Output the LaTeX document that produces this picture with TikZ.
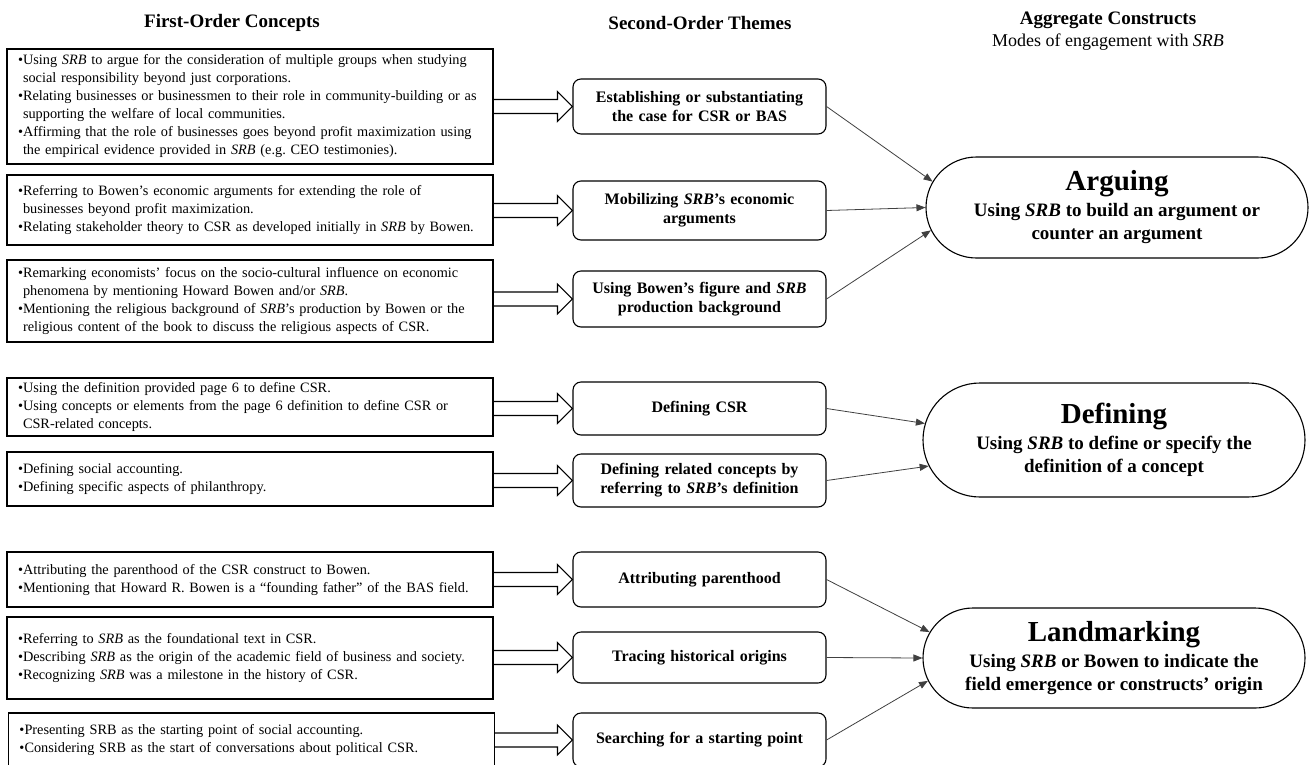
\documentclass[tikz,border=0pt]{standalone}
\usepackage{fontspec}
\setmainfont{Liberation Serif}
\usetikzlibrary{shapes.misc,arrows.meta,calc}

\newcommand\bul{\textbullet}
\newcommand\ind{\hphantom{\textbullet}}

\tikzset{
  firstbox/.style={draw, line width=1.1pt, minimum width=486pt, text width=464pt,
    inner xsep=11pt, inner ysep=0pt, align=left, font=\fontsize{14.3}{18}\selectfont},
  themebox/.style={draw, line width=1.1pt, rounded corners=8pt, minimum width=253pt,
    text width=240pt, inner sep=0pt, align=center, font=\bfseries\fontsize{16}{19}\selectfont},
  constructbox/.style={draw, line width=1.1pt, rounded rectangle, minimum width=382pt,
    inner sep=0pt, align=center, font=\bfseries\fontsize{19}{23}\selectfont},
  header/.style={font=\bfseries\fontsize{19}{22}\selectfont},
  link/.style={draw=black!75, line width=0.8pt, -{Triangle[length=9pt,width=7pt]}},
  blockarr/.style={draw, line width=1.1pt, line join=miter},
}

\begin{document}
\frenchspacing
\begin{tikzpicture}[x=1pt,y=-1pt]
  \pgfmathsetmacro\shaft{7}    % half height of block arrow shaft
  \pgfmathsetmacro\headw{15}   % half height of block arrow head
  \pgfmathsetmacro\headl{15}
  \useasboundingbox (0,0) rectangle (1309,764);
  \clip (0,0) rectangle (1309,764);

% column headers
  \node[header] (h1) at (232,23) {First-Order Concepts};
  \node[header] (h2) at (700,23) {Second-Order Themes};
  \node[header] (h3) at (1108,20) {Aggregate Constructs};
  \node[font=\fontsize{18}{20}\selectfont] (h4) at (1108,42) {Modes of engagement with \textit{SRB}};

% first-order concepts
  \node[firstbox, minimum height=115pt] (c1) at (250,106.5) {\bul Using \textit{SRB} to argue for the consideration of multiple groups when studying\\
    \ind social responsibility beyond just corporations.\\
    \bul Relating businesses or businessmen to their role in community-building or as\\
    \ind supporting the welfare of local communities.\\
    \bul Affirming that the role of businesses goes beyond profit maximization using\\
    \ind the empirical evidence provided in \textit{SRB} (e.g. CEO testimonies).};
  \node[firstbox, minimum height=70pt] (c2) at (250,210) {\bul Referring to Bowen's economic arguments for extending the role of\\
    \ind businesses beyond profit maximization.\\
    \bul Relating stakeholder theory to CSR as developed initially in \textit{SRB} by Bowen.};
  \node[firstbox, minimum height=82pt] (c3) at (250,301) {\bul Remarking economists' focus on the socio-cultural influence on economic\\
    \ind phenomena by mentioning Howard Bowen and/or \textit{SRB}.\\
    \bul Mentioning the religious background of \textit{SRB}'s production by Bowen or the\\
    \ind religious content of the book to discuss the religious aspects of CSR.};
  \node[firstbox, minimum height=58pt] (c4) at (250,407) {\bul Using the definition provided page 6 to define CSR.\\
    \bul Using concepts or elements from the page 6 definition to define CSR or\\
    \ind CSR-related concepts.};
  \node[firstbox, minimum height=54pt] (c5) at (250,479) {\bul Defining social accounting.\\
    \bul Defining specific aspects of philanthropy.};
  \node[firstbox, minimum height=55pt] (c6) at (250,579.5) {\bul Attributing the parenthood of the CSR construct to Bowen.\\
    \bul Mentioning that Howard R. Bowen is a ``founding father'' of the BAS field.};
  \node[firstbox, minimum height=82pt] (c7) at (250,658) {\bul Referring to \textit{SRB} as the foundational text in CSR.\\
    \bul Describing \textit{SRB} as the origin of the academic field of business and society.\\
    \bul Recognizing \textit{SRB} was a milestone in the history of CSR.};
  \node[firstbox, minimum height=54pt] (c8) at (251.5,740) {\bul Presenting SRB as the starting point of social accounting.\\
    \bul Considering SRB as the start of conversations about political CSR.};

% second-order themes
  \node[themebox, minimum height=55pt] (t1) at (699.5,106.5) {Establishing or substantiating\\the case for CSR or BAS};
  \node[themebox, minimum height=59pt] (t2) at (699.5,210.5) {Mobilizing \textit{SRB}'s economic\\arguments};
  \node[themebox, minimum height=56pt] (t3) at (699.5,299) {Using Bowen's figure and \textit{SRB}\\production background};
  \node[themebox, minimum height=53pt] (t4) at (699.5,408.5) {Defining CSR};
  \node[themebox, minimum height=53pt] (t5) at (699.5,480.5) {Defining related concepts by\\referring to \textit{SRB}'s definition};
  \node[themebox, minimum height=55pt] (t6) at (699.5,579.5) {Attributing parenthood};
  \node[themebox, minimum height=51pt] (t7) at (699.5,657.5) {Tracing historical origins};
  \node[themebox, minimum height=54pt] (t8) at (699.5,740) {Searching for a starting point};

% aggregate constructs
  \node[constructbox, minimum height=101pt] (arg) at (1117,207.5) {{\fontsize{29}{30}\selectfont Arguing}\\[3pt]
    Using \textit{SRB} to build an argument or\\counter an argument};
  \node[constructbox, minimum height=114pt] (def) at (1114,440) {{\fontsize{29}{30}\selectfont Defining}\\[3pt]
    Using \textit{SRB} to define or specify the\\definition of a concept};
  \node[constructbox, minimum height=100pt] (land) at (1114,658) {{\fontsize{29}{30}\selectfont Landmarking}\\[3pt]
    Using \textit{SRB} or Bowen to indicate the\\field emergence or constructs' origin};

% block arrows concept -> theme
  \foreach \i in {1,...,8}{
    \draw[blockarr] ($(c\i.east |- t\i.west)+(0,\shaft)$) -- ($(t\i.west)+(-\headl,\shaft)$)
      -- ($(t\i.west)+(-\headl,\headw)$) -- (t\i.west) -- ($(t\i.west)+(-\headl,-\headw)$)
      -- ($(t\i.west)+(-\headl,-\shaft)$) -- ($(c\i.east |- t\i.west)+(0,-\shaft)$);
  }

% thin arrows theme -> construct
  \foreach \s/\t in {t1/arg.172, t2/arg.west, t3/arg.187, t4/def.175, t5/def.188,
                     t6/land.172, t7/land.west, t8/land.187}
    \draw[link] (\s.east) -- (\t);
\end{tikzpicture}
\end{document}
